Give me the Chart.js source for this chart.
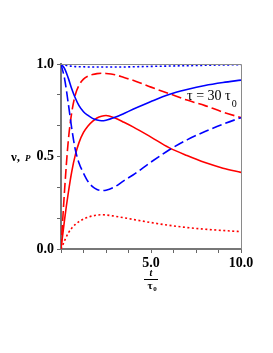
<!DOCTYPE html>
<html>
<head>
<meta charset="utf-8">
<script src="https://cdn.jsdelivr.net/npm/chart.js@4"></script>
<style>
  html, body { margin: 0; padding: 0; background: #fff; }
  canvas { display: block; }
</style>
</head>
<body>
<canvas id="chart" width="273" height="353"></canvas>
<script>
// t / tau0
const t = [0, 0.2, 0.4, 0.6, 0.8, 1.0, 1.25, 1.5, 1.75, 2.0, 2.25, 2.5, 3, 3.5, 4, 5, 6, 7, 8, 9, 10];

// blue curves (v)
const blueSolid  = [1.0, 0.975, 0.925, 0.865, 0.815, 0.775, 0.742, 0.722, 0.706, 0.697, 0.693, 0.696, 0.712, 0.733, 0.755, 0.797, 0.835, 0.862, 0.884, 0.900, 0.913];
const blueDashed = [1.0, 0.92, 0.79, 0.65, 0.535, 0.465, 0.41, 0.365, 0.337, 0.322, 0.316, 0.318, 0.337, 0.37, 0.40, 0.47, 0.535, 0.59, 0.635, 0.675, 0.71];
const blueDotted = [1.0, 0.995, 0.99, 0.988, 0.986, 0.985, 0.985, 0.984, 0.984, 0.984, 0.984, 0.984, 0.984, 0.984, 0.985, 0.987, 0.989, 0.991, 0.993, 0.995, 0.996];

// red curves (P)
const redSolid  = [0, 0.16, 0.30, 0.42, 0.51, 0.575, 0.63, 0.665, 0.69, 0.708, 0.718, 0.722, 0.708, 0.685, 0.66, 0.605, 0.548, 0.505, 0.467, 0.437, 0.414];
const redDashed = [0, 0.32, 0.58, 0.74, 0.835, 0.885, 0.918, 0.935, 0.943, 0.948, 0.95, 0.949, 0.942, 0.927, 0.912, 0.875, 0.84, 0.805, 0.775, 0.74, 0.71];
const redDotted = [0, 0.045, 0.085, 0.113, 0.133, 0.148, 0.162, 0.172, 0.179, 0.183, 0.185, 0.184, 0.177, 0.169, 0.16, 0.143, 0.128, 0.116, 0.107, 0.10, 0.094];

// ticks
const xTicks = [0, 1.25, 2.5, 3.75, 5, 6.25, 7.5, 8.75, 10];
const xTickLabels = { 5: '5.0', 10: '10.0' };
const yTicks = [0, 1/6, 2/6, 0.5, 4/6, 5/6, 1];
const yTickLabels = { 0: '0.0', 0.5: '0.5', 1: '1.0' };

const note = 'τ = 30 τ';
const noteSub = '0';

const BLUE = 'rgb(0,0,255)';
const RED = 'rgb(255,0,0)';
const SERIF = "'Liberation Serif', 'Times New Roman', serif";

function pts(ys) {
  return t.map((x, i) => ({ x: x, y: ys[i] }));
}

function line(ys, color, dash) {
  return {
    data: pts(ys),
    borderColor: color,
    borderWidth: 1.6,
    borderDash: dash,
    pointRadius: 0,
    showLine: true,
    fill: false,
    cubicInterpolationMode: 'monotone'
  };
}

function labelFor(map, v) {
  for (const k in map) {
    if (Math.abs(Number(k) - v) < 1e-6) return map[k];
  }
  return '';
}

// frame, axis titles, note
const extras = {
  id: 'extras',
  afterDraw(chart) {
    const ctx = chart.ctx;
    const a = chart.chartArea;
    const xs = chart.scales.x, ys = chart.scales.y;
    ctx.save();
    // top and right frame
    ctx.strokeStyle = '#8a8a8a';
    ctx.lineWidth = 1;
    ctx.beginPath();
    ctx.moveTo(a.left, a.top + 0.5);
    ctx.lineTo(a.right + 0.5, a.top + 0.5);
    ctx.lineTo(a.right + 0.5, a.bottom);
    ctx.stroke();

    ctx.fillStyle = '#000';
    ctx.textBaseline = 'alphabetic';

    // y title  "ν, P"
    const yMid = ys.getPixelForValue(0.5) + 4;
    ctx.font = 'bold 13px ' + SERIF;
    ctx.textAlign = 'left';
    ctx.fillText('ν,', 11, yMid);
    ctx.font = 'italic bold 9px ' + SERIF;
    ctx.fillText('P', 25, yMid);

    // x title  t / tau0
    const cx = xs.getPixelForValue(5);
    ctx.textAlign = 'center';
    ctx.font = 'italic bold 10px ' + SERIF;
    ctx.fillText('t', cx, 276);
    ctx.fillRect(cx - 7, 279, 14, 1);
    ctx.font = 'bold 11px ' + SERIF;
    ctx.fillText('τ', cx - 1, 289);
    ctx.font = 'bold 7px ' + SERIF;
    ctx.fillText('0', cx + 4, 291);

    // note
    ctx.textAlign = 'left';
    ctx.font = '14px ' + SERIF;
    const nx = xs.getPixelForValue(7.0);
    const ny = ys.getPixelForValue(0.805);
    ctx.fillText(note, nx, ny);
    const w = ctx.measureText(note).width;
    ctx.font = '10px ' + SERIF;
    ctx.fillText(noteSub, nx + w + 1, ny + 7);
    ctx.restore();
  }
};

new Chart(document.getElementById('chart').getContext('2d'), {
  type: 'scatter',
  data: {
    datasets: [
      line(blueDotted, BLUE, [2, 2.5]),
      line(blueSolid, BLUE, []),
      line(blueDashed, BLUE, [10, 4]),
      line(redDashed, RED, [10, 4]),
      line(redSolid, RED, []),
      line(redDotted, RED, [2, 2.5])
    ]
  },
  options: {
    responsive: false,
    animation: false,
    layout: { padding: { top: 64, right: 32, left: 0, bottom: 0 } },
    plugins: {
      legend: { display: false },
      tooltip: { enabled: false }
    },
    scales: {
      x: {
        type: 'linear',
        min: 0,
        max: 10,
        afterBuildTicks: s => { s.ticks = xTicks.map(v => ({ value: v })); },
        afterFit: s => { s.height = 104; },
        ticks: {
          autoSkip: false,
          maxRotation: 0,
          padding: 2,
          color: '#000',
          font: { family: SERIF, size: 14, weight: 'bold' },
          callback: v => labelFor(xTickLabels, v)
        },
        grid: { drawOnChartArea: false, drawTicks: true, tickLength: 4, color: '#666', lineWidth: 1 },
        border: { color: '#777', width: 2 }
      },
      y: {
        type: 'linear',
        min: 0,
        max: 1,
        afterBuildTicks: s => { s.ticks = yTicks.map(v => ({ value: v })); },
        afterFit: s => { s.width = 61; },
        ticks: {
          autoSkip: false,
          padding: 3,
          color: '#000',
          font: { family: SERIF, size: 14, weight: 'bold' },
          callback: v => labelFor(yTickLabels, v)
        },
        grid: { drawOnChartArea: false, drawTicks: true, tickLength: 4, color: '#666', lineWidth: 1 },
        border: { color: '#777', width: 2 }
      }
    }
  },
  plugins: [extras]
});
</script>
</body>
</html>
